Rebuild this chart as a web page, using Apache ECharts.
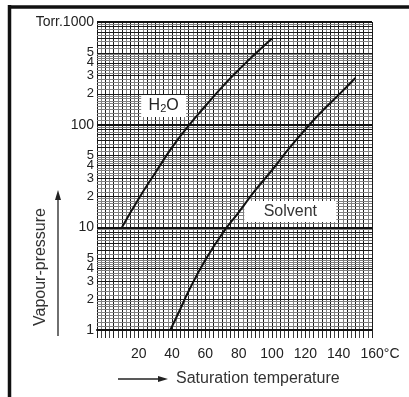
<!DOCTYPE html>
<html>
<head>
<meta charset="utf-8">
<script src="https://cdn.jsdelivr.net/npm/echarts@6.0.0/dist/echarts.min.js"></script>
<style>
  html, body { margin: 0; padding: 0; background: #fff; }
  #main { width: 409px; height: 397px; }
</style>
</head>
<body>
<div id="main"></div>
<script>
// saturation temperature (°C) and vapour pressure (Torr)
const tempLabels = [20, 40, 60, 80, 100, 120, 140, 160];
const pressureLabels = [1, 2, 3, 4, 5, 10, 20, 30, 40, 50, 100, 200, 300, 400, 500, 1000];

const h2oTemp = [10, 20, 30, 40, 50, 60, 70, 80, 90, 100];
const h2oPressure = [10, 19, 34, 60, 98, 152, 232, 342, 490, 690];

const solventTemp = [39, 45, 50, 60, 70, 80, 90, 100, 110, 120, 130, 140, 150];
const solventPressure = [1, 1.6, 2.4, 4.8, 8.6, 14, 23, 36, 58, 90, 135, 195, 285];

// log paper rulings inside each decade
const decades = [1, 10, 100];
const mainSteps = [2, 3, 4, 5, 6, 7, 8, 9];
const fineSteps = [1.1, 1.2, 1.3, 1.4, 1.5, 1.6, 1.7, 1.8, 1.9,
  2.2, 2.4, 2.6, 2.8, 3.2, 3.4, 3.6, 3.8, 4.2, 4.4, 4.6, 4.8,
  5.5, 6.5, 7.5, 8.5, 9.5];

const FONT = 'Liberation Sans';

const rulings = [];
decades.forEach(d => {
  fineSteps.forEach(m => rulings.push({ yAxis: d * m, lineStyle: { color: '#808080', width: 1, type: 'solid' } }));
  mainSteps.forEach(m => rulings.push({ yAxis: d * m, lineStyle: { color: '#1a1a1a', width: 1, type: 'solid' } }));
  rulings.push({ yAxis: d, lineStyle: { color: '#111', width: 2, type: 'solid' } });
});
rulings.push({ yAxis: 1000, lineStyle: { color: '#111', width: 2, type: 'solid' } });

const toPairs = (xs, ys) => xs.map((x, i) => [x, ys[i]]);

const chart = echarts.init(document.getElementById('main'));

const option = {
  backgroundColor: '#fff',
  animation: false,
  grid: { left: 97, right: 37, top: 22, bottom: 67 },
  xAxis: {
    type: 'value',
    min: -5,
    max: 160,
    interval: 5,
    axisLine: { onZero: false, lineStyle: { color: '#111', width: 2 } },
    axisTick: { length: 8, lineStyle: { color: '#222' } },
    minorTick: { show: true, splitNumber: 2, length: 8, lineStyle: { color: '#444' } },
    splitLine: { lineStyle: { color: '#1a1a1a', width: 1 } },
    minorSplitLine: { show: true, lineStyle: { color: '#808080', width: 1 } },
    axisLabel: {
      margin: 17,
      color: '#222',
      fontFamily: FONT,
      fontSize: 14,
      showMaxLabel: true,
      formatter: v => {
        if (!tempLabels.includes(v)) return '';
        return v === 160 ? '{pad| }160°C' : String(v);
      },
      rich: { pad: { width: 16 } }
    }
  },
  yAxis: [
    {
      type: 'log',
      logBase: 10,
      min: 1,
      max: 1000,
      axisLine: { show: true, lineStyle: { color: '#222', width: 1 } },
      axisTick: { show: false },
      axisLabel: { show: false },
      splitLine: { show: false }
    },
    {
      // label-only axis in log10 units, so the 2-5 marks of each decade can be printed
      type: 'value',
      min: 0,
      max: 3,
      position: 'left',
      axisLine: { show: false },
      axisTick: { show: false },
      splitLine: { show: false },
      axisLabel: {
        customValues: pressureLabels.map(p => Math.log10(p)),
        margin: 3,
        color: '#222',
        fontFamily: FONT,
        fontSize: 14,
        formatter: v => {
          const p = Math.round(Math.pow(10, v));
          if (p === 1000) return 'Torr.1000';
          if (decades.includes(p)) return String(p);
          return '{s|' + String(p).charAt(0) + '}';
        },
        rich: { s: { fontFamily: FONT, fontSize: 13, color: '#222' } }
      }
    }
  ],
  series: [
    {
      name: 'paper',
      type: 'line',
      data: [],
      silent: true,
      z: 1,
      markLine: {
        silent: true,
        symbol: ['none', 'none'],
        label: { show: false },
        animation: false,
        data: rulings
      }
    },
    {
      name: 'H2O',
      type: 'line',
      smooth: true,
      showSymbol: false,
      z: 5,
      data: toPairs(h2oTemp, h2oPressure),
      lineStyle: { color: '#111', width: 2 },
      markPoint: {
        silent: true,
        symbol: 'rect',
        symbolSize: [45, 22],
        itemStyle: { color: '#fff' },
        label: {
          show: true,
          position: 'inside',
          formatter: '{t|H}{s|2}{t|O}',
          rich: {
            t: { fontFamily: FONT, fontSize: 16, color: '#222', lineHeight: 17 },
            s: { fontFamily: FONT, fontSize: 11, color: '#222', lineHeight: 6, verticalAlign: 'bottom' }
          }
        },
        data: [{ coord: [35, 152] }]
      }
    },
    {
      name: 'Solvent',
      type: 'line',
      smooth: true,
      showSymbol: false,
      z: 5,
      data: toPairs(solventTemp, solventPressure),
      lineStyle: { color: '#111', width: 2 },
      markPoint: {
        silent: true,
        symbol: 'rect',
        symbolSize: [92, 21],
        itemStyle: { color: '#fff' },
        label: {
          show: true,
          position: 'inside',
          formatter: 'Solvent',
          fontFamily: FONT,
          fontSize: 16,
          color: '#333'
        },
        data: [{ coord: [111, 14.3] }]
      }
    }
  ],
  graphic: [
    { type: 'line', silent: true, shape: { x1: 8, y1: 7, x2: 409, y2: 7 }, style: { stroke: '#111', lineWidth: 3.5 } },
    { type: 'line', silent: true, shape: { x1: 9.5, y1: 5, x2: 9.5, y2: 397 }, style: { stroke: '#111', lineWidth: 3.5 } },
    { type: 'line', silent: true, shape: { x1: 58, y1: 336, x2: 58, y2: 198 }, style: { stroke: '#222', lineWidth: 1.3 } },
    { type: 'polygon', silent: true, shape: { points: [[58, 190], [55, 200], [61, 200]] }, style: { fill: '#222' } },
    {
      type: 'text', silent: true, x: 41, y: 267, rotation: Math.PI / 2,
      style: { text: 'Vapour-pressure', fontFamily: FONT, fontSize: 16, fill: '#333', align: 'center', verticalAlign: 'middle' }
    },
    { type: 'line', silent: true, shape: { x1: 118, y1: 379, x2: 160, y2: 379 }, style: { stroke: '#222', lineWidth: 1.3 } },
    { type: 'polygon', silent: true, shape: { points: [[168, 379], [158, 376], [158, 382]] }, style: { fill: '#222' } },
    {
      type: 'text', silent: true, x: 176, y: 379,
      style: { text: 'Saturation temperature', fontFamily: FONT, fontSize: 16, fill: '#333', align: 'left', verticalAlign: 'middle' }
    }
  ]
};

chart.setOption(option);
</script>
</body>
</html>
